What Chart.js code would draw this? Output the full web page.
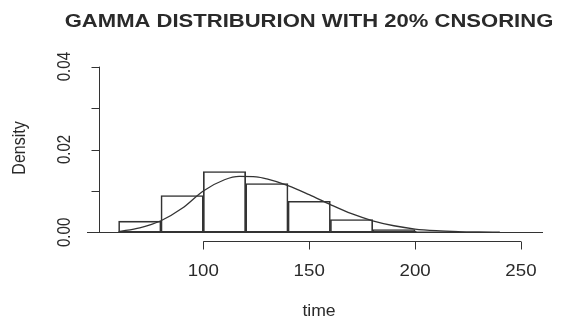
<!DOCTYPE html>
<html>
<head>
<meta charset="utf-8">
<script src="https://cdn.jsdelivr.net/npm/chart.js@4/dist/chart.umd.min.js"></script>
<style>
  html, body { margin: 0; padding: 0; background: #fff; }
  #wrap { position: relative; width: 571px; height: 321px; }
</style>
</head>
<body>
<div id="wrap"><canvas id="chart"></canvas></div>
<script>
// histogram bins (mid points, width 20) and densities
const binMids = [70, 90, 110, 130, 150, 170, 190, 210, 230];
const binDensity = [0.0027, 0.0089, 0.0147, 0.0118, 0.0075, 0.0031, 0.0007, 0.0003, 0.0001];

// fitted gamma curve
const curveX = [60, 70, 80, 90, 100, 110, 117, 125, 130, 140, 150, 160, 170, 180, 190, 200, 210, 220, 230, 240];
const curveY = [0.0002, 0.0011, 0.0028, 0.0058, 0.0100, 0.0127, 0.0135, 0.0134, 0.0129, 0.0113, 0.0091, 0.0067, 0.0045, 0.0028, 0.0016, 0.0008, 0.0004, 0.0002, 0.0001, 0.00005];

const xTicks = [100, 150, 200, 250];
const yTicks = [0, 0.01, 0.02, 0.03, 0.04];
const yTickLabels = ['0.00', '', '0.02', '', '0.04'];

const titleText = 'GAMMA DISTRIBURION WITH 20% CNSORING';
const xTitle = 'time';
const yTitle = 'Density';

const ink = '#333';
const font = '"Liberation Sans", Arial, sans-serif';

// the original picture is a little stretched sideways, so text gets a x scale
function label(ctx, str, x, y, f, sx, rot) {
  ctx.save();
  ctx.translate(x, y);
  ctx.scale(sx, 1);
  if (rot) ctx.rotate(-Math.PI / 2);
  ctx.font = f;
  ctx.fillText(str, 0, 0);
  ctx.restore();
}

const rAxes = {
  id: 'rAxes',
  afterDraw(chart) {
    const { ctx, chartArea, scales } = chart;
    const x = scales.x, y = scales.y;
    ctx.save();
    ctx.strokeStyle = ink;
    ctx.fillStyle = '#2a2a2a';
    ctx.lineWidth = 1;

    // zero line
    const y0 = Math.round(y.getPixelForValue(0)) + 0.5;
    ctx.beginPath();
    ctx.moveTo(87, y0);
    ctx.lineTo(chartArea.right, y0);
    ctx.stroke();

    // y axis
    const ax = Math.round(chartArea.left) + 0.5;
    ctx.beginPath();
    ctx.moveTo(ax, y.getPixelForValue(yTicks[0]));
    ctx.lineTo(ax, y.getPixelForValue(yTicks[yTicks.length - 1]));
    yTicks.forEach(v => {
      const py = Math.round(y.getPixelForValue(v)) + 0.5;
      ctx.moveTo(ax, py);
      ctx.lineTo(ax - 8, py);
    });
    ctx.stroke();
    ctx.textAlign = 'center';
    ctx.textBaseline = 'middle';
    yTicks.forEach((v, i) => {
      if (!yTickLabels[i]) return;
      label(ctx, yTickLabels[i], 65, y.getPixelForValue(v), '15px ' + font, 1.25, true);
    });

    // x axis
    const ay = 241.5;
    ctx.beginPath();
    ctx.moveTo(x.getPixelForValue(xTicks[0]), ay);
    ctx.lineTo(x.getPixelForValue(xTicks[xTicks.length - 1]), ay);
    xTicks.forEach(v => {
      const px = Math.round(x.getPixelForValue(v)) + 0.5;
      ctx.moveTo(px, ay);
      ctx.lineTo(px, ay + 8);
    });
    ctx.stroke();
    xTicks.forEach(v => label(ctx, String(v), x.getPixelForValue(v), 271, '17px ' + font, 1.1));

    // titles
    label(ctx, xTitle, 319, 312, '16px ' + font, 1.1);
    label(ctx, yTitle, 20, 148, '16px ' + font, 1.2, true);
    label(ctx, titleText, 309, 22, 'bold 19px ' + font, 1.16);
    ctx.restore();
  }
};

new Chart(document.getElementById('chart'), {
  type: 'bar',
  data: {
    datasets: [
      {
        type: 'line',
        data: curveX.map((v, i) => ({ x: v, y: curveY[i] })),
        borderColor: ink,
        borderWidth: 1.3,
        pointRadius: 0,
        cubicInterpolationMode: 'monotone',
        fill: false,
        clip: false,
        order: 0
      },
      {
        type: 'bar',
        data: binMids.map((v, i) => ({ x: v, y: binDensity[i] })),
        backgroundColor: 'rgba(255,255,255,0)',
        borderColor: ink,
        borderWidth: 1,
        borderSkipped: false,
        barPercentage: 1,
        categoryPercentage: 1,
        order: 1
      }
    ]
  },
  options: {
    responsive: true,
    maintainAspectRatio: false,
    animation: false,
    layout: { padding: { left: 99, right: 28, top: 60, bottom: 82 } },
    scales: {
      x: { type: 'linear', min: 50.75, max: 260.4, offset: false, display: false },
      y: { type: 'linear', min: -0.0016, max: 0.0416, display: false }
    },
    plugins: {
      legend: { display: false },
      tooltip: { enabled: false },
      title: { display: false }
    }
  },
  plugins: [rAxes]
});
</script>
</body>
</html>
